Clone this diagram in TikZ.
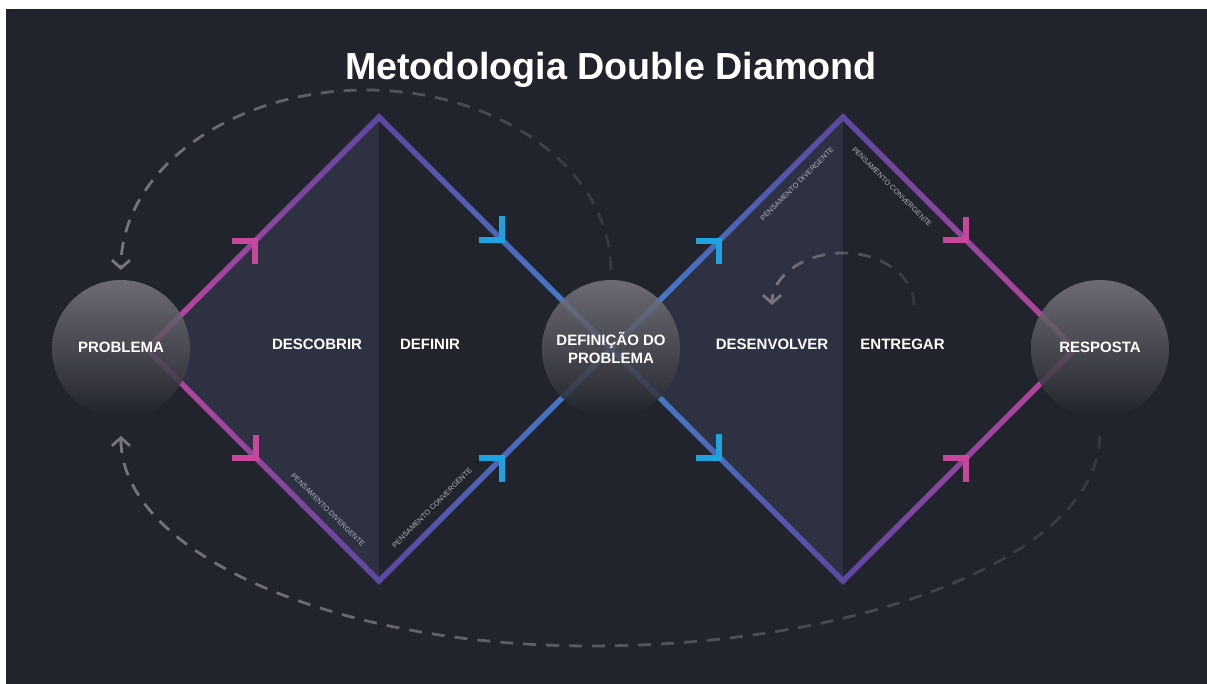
\documentclass[tikz,border=0pt]{standalone}
\usepackage{fontspec}
\setmainfont{Liberation Sans}
\usetikzlibrary{fadings,calc,arrows.meta}
\definecolor{bg}{HTML}{21242C}
\definecolor{half}{HTML}{2D3142}
\definecolor{cpink}{HTML}{C2449C}
\definecolor{cpurple}{HTML}{5C47A1}
\definecolor{cblue}{HTML}{3F84D1}
\definecolor{mpink}{HTML}{C8479D}
\definecolor{mblue}{HTML}{1FA3E0}
\definecolor{dashc}{HTML}{77767E}
\definecolor{smalltxt}{HTML}{B4B4BC}
\definecolor{ctop}{HTML}{7A7880}
\definecolor{cbot}{HTML}{22242C}
\tikzfading[name=fadeR, left color=transparent!0, right color=transparent!75]
\newcommand\gedge[4]{\shade[left color=#3,right color=#4]
  ($(#1)!2.75pt!90:(#2)$) -- ($(#1)!2.75pt!-90:(#2)$) --
  ($(#2)!2.75pt!90:(#1)$) -- ($(#2)!2.75pt!-90:(#1)$) -- cycle;}
\begin{document}
\begin{tikzpicture}[x=1pt,y=-1pt,
  mk/.style={line width=6pt,line cap=butt,line join=miter},
  circ/.style={circle,minimum size=138pt,inner sep=0pt,draw=none,
    top color=ctop,bottom color=cbot,fill opacity=0.85},
  lbl/.style={text=white,font=\bfseries\fontsize{15}{18}\selectfont,anchor=base},
  ctext/.style={text=white,font=\bfseries\fontsize{15}{18}\selectfont,align=center},
  small/.style={text=smalltxt,font=\fontsize{7.3}{8}\selectfont,inner sep=0pt},
  dsh/.style={dashc,line width=2.8pt,dash pattern=on 13pt off 10pt,path fading=fadeR},
  tipa/.style={-{Straight Barb[length=8pt,width=18pt]}}]
\useasboundingbox (0,0) rectangle (1207,684);
\fill[white] (0,0) rectangle (1207,684);
\fill[bg] (6,9) rectangle (1207,684);
% vertices
\coordinate (L1) at (147,349);
\coordinate (T1) at (379,117);
\coordinate (B1) at (379,581);
\coordinate (M) at (611,349);
\coordinate (T2) at (843,117);
\coordinate (B2) at (843,581);
\coordinate (R2) at (1075,349);
% half fills
\fill[half] (L1) -- (T1) -- (B1) -- cycle;
\fill[half] (M) -- (T2) -- (B2) -- cycle;
% edges
\gedge{L1}{T1}{cpink}{cpurple}
\gedge{L1}{B1}{cpink}{cpurple}
\gedge{T1}{M}{cpurple}{cblue}
\gedge{B1}{M}{cpurple}{cblue}
\gedge{M}{T2}{cblue}{cpurple}
\gedge{M}{B2}{cblue}{cpurple}
\gedge{T2}{R2}{cpurple}{cpink}
\gedge{B2}{R2}{cpurple}{cpink}
\foreach \v in {T1,B1,T2,B2}{
  \fill[cpurple] (\v) ++(0,-3.9) -- ++(3.9,3.9) -- ++(-3.9,3.9) -- ++(-3.9,-3.9) -- cycle;}
% markers
\coordinate (k1) at (255.3,241);
\coordinate (k2) at (255.5,458);
\coordinate (k3) at (502,240);
\coordinate (k4) at (502,458);
\coordinate (k5) at (719,241);
\coordinate (k6) at (719,457.5);
\coordinate (k7) at (966,240.5);
\coordinate (k8) at (966,458);
\draw[mk,mpink] ([shift={(-23.5,0)}]k1) -- (k1) -- ([shift={(0,23.5)}]k1);
\draw[mk,mpink] ([shift={(-23.5,0)}]k2) -- (k2) -- ([shift={(0,-23.5)}]k2);
\draw[mk,mblue] ([shift={(-23.5,0)}]k3) -- (k3) -- ([shift={(0,-23.5)}]k3);
\draw[mk,mblue] ([shift={(-23.5,0)}]k4) -- (k4) -- ([shift={(0,23.5)}]k4);
\draw[mk,mblue] ([shift={(-23.5,0)}]k5) -- (k5) -- ([shift={(0,23.5)}]k5);
\draw[mk,mblue] ([shift={(-23.5,0)}]k6) -- (k6) -- ([shift={(0,-23.5)}]k6);
\draw[mk,mpink] ([shift={(-23.5,0)}]k7) -- (k7) -- ([shift={(0,-23.5)}]k7);
\draw[mk,mpink] ([shift={(-23.5,0)}]k8) -- (k8) -- ([shift={(0,23.5)}]k8);
% small texts
\node[small,rotate=-45] (pd1) at (328,510) {PENSAMENTO DIVERGENTE};
\node[small,rotate=45] (pc1) at (432,508) {PENSAMENTO CONVERGENTE};
\node[small,rotate=45] (pd2) at (797,184) {PENSAMENTO DIVERGENTE};
\node[small,rotate=-45] (pc2) at (892,187) {PENSAMENTO CONVERGENTE};
% circles
\node[circ] (c1) at (121,349) {};
\node[circ] (c2) at (611,349) {};
\node[circ] (c3) at (1100,349) {};
\node[lbl] (t1) at (121,353) {PROBLEMA};
\node[ctext] (t2) at (611,348) {DEFINIÇÃO DO\\PROBLEMA};
\node[lbl] (t3) at (1100,353) {RESPOSTA};
% labels
\node[lbl] (l1) at (317,350) {DESCOBRIR};
\node[lbl] (l2) at (430,350) {DEFINIR};
\node[lbl] (l3) at (772,350) {DESENVOLVER};
\node[lbl] (l4) at (902.5,350) {ENTREGAR};
% title
\node[text=white,anchor=base,font=\bfseries\fontsize{37.7}{44}\selectfont] (title) at (611,80) {Metodologia Double Diamond};
% dashed arcs
\coordinate (a1) at (611,270);
\coordinate (a2) at (1100,436);
\coordinate (a3) at (914,305);
\draw[dsh,tipa] (a1) arc[start angle=0,end angle=-180,x radius=245,y radius=180];
\draw[dsh,tipa] (a2) arc[start angle=0,end angle=90,x radius=510,y radius=210]
   arc[start angle=90,end angle=180,x radius=469,y radius=210];
\draw[dsh,tipa] (a3) arc[start angle=0,end angle=-180,x radius=71,y radius=52];
\end{tikzpicture}
\end{document}
